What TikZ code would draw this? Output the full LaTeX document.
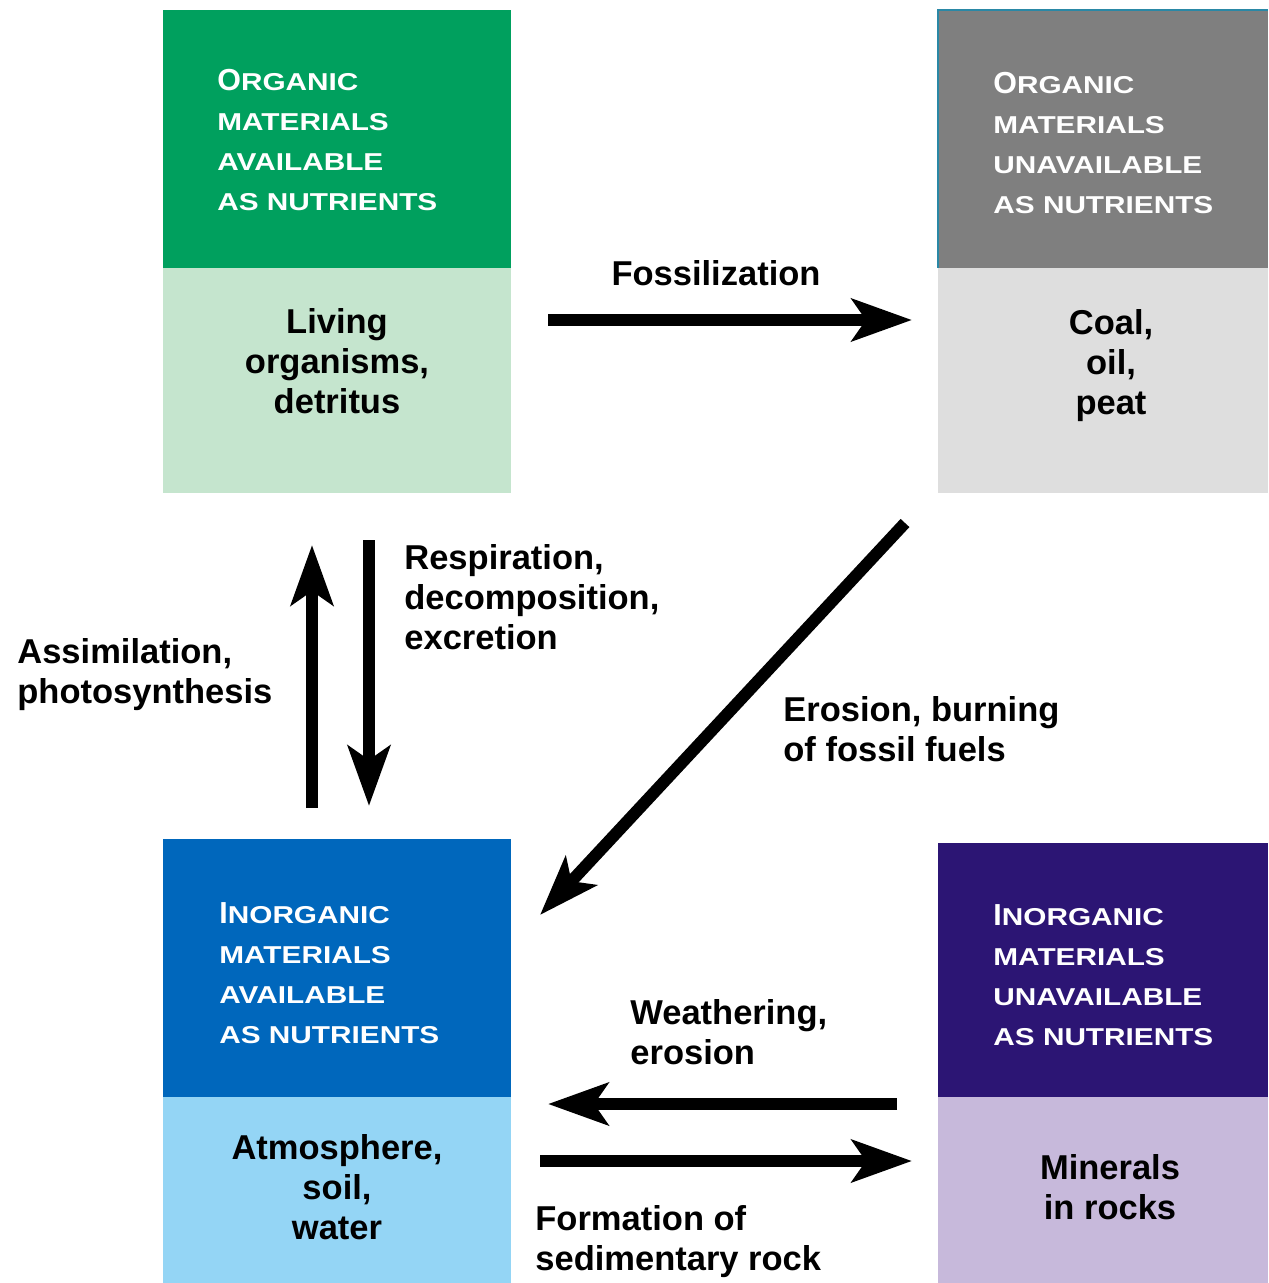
\documentclass[tikz,border=0pt]{standalone}
\usepackage{fontspec}
\setmainfont{Liberation Sans}
\usepackage{graphicx}
\usetikzlibrary{arrows.meta}

\definecolor{orgdark}{HTML}{00A05E}
\definecolor{orglight}{HTML}{C5E5CE}
\definecolor{fosdark}{HTML}{7F7F7F}
\definecolor{foslight}{HTML}{DEDEDE}
\definecolor{fosedge}{HTML}{2A88A6}
\definecolor{inodark}{HTML}{0067BC}
\definecolor{inolight}{HTML}{94D5F5}
\definecolor{rockdark}{HTML}{2C1574}
\definecolor{rocklight}{HTML}{C7B9DB}

% wide small capitals of the headings
\newcommand{\wide}[1]{\scalebox{1.22}[1]{#1}}
\newcommand{\initial}[1]{{\fontsize{15.2}{20}\selectfont #1}}

\tikzset{
  pane/.style={inner sep=0pt, outer sep=0pt, anchor=north west, fill=#1},
  headtxt/.style={text=white, font=\fontsize{12.2}{20}\selectfont\bfseries, align=left, inner sep=0pt, anchor=west},
  boxtxt/.style={font=\fontsize{17.25}{20}\selectfont\bfseries, align=center, inner sep=0pt},
  lbl/.style={font=\fontsize{17.25}{20}\selectfont\bfseries, align=left, inner sep=0pt, anchor=west},
  flow/.style={line width=6pt, -{Stealth[length=30pt, width=21pt, inset=7pt]}}
}

\begin{document}
\begin{tikzpicture}[x=0.5pt, y=-0.5pt]
  \useasboundingbox (0,0) rectangle (1268,1283);

  % Draw the four boxes
  \node[pane=orgdark, minimum width=174pt, minimum height=129pt] (orgav) at (163,10) {};
  \node[pane=orglight, minimum width=174pt, minimum height=112.5pt] (living) at (163,268) {};
  \node[pane=fosdark, minimum width=165pt, minimum height=129pt] (orgun) at (938,10) {};
  \node[pane=foslight, minimum width=165pt, minimum height=112.5pt] (coal) at (938,268) {};
  \node[pane=inodark, minimum width=174pt, minimum height=129pt] (inoav) at (163,839) {};
  \node[pane=inolight, minimum width=174pt, minimum height=93pt] (atmos) at (163,1097) {};
  \node[pane=rockdark, minimum width=165pt, minimum height=127pt] (inoun) at (938,843) {};
  \node[pane=rocklight, minimum width=165pt, minimum height=93pt] (minerals) at (938,1097) {};
  \draw[fosedge, line width=0.8pt] (orgun.south west) -- (orgun.north west) -- (orgun.north east);

  % Headings
  \node[headtxt] (orgavtxt) at (217,140) {\initial{O}\wide{RGANIC}\\ \wide{MATERIALS}\\ \wide{AVAILABLE}\\ \wide{AS NUTRIENTS}};
  \node[headtxt] (orguntxt) at (993,143) {\initial{O}\wide{RGANIC}\\ \wide{MATERIALS}\\ \wide{UNAVAILABLE}\\ \wide{AS NUTRIENTS}};
  \node[headtxt] (inoavtxt) at (219,973) {\initial{I}\wide{NORGANIC}\\ \wide{MATERIALS}\\ \wide{AVAILABLE}\\ \wide{AS NUTRIENTS}};
  \node[headtxt] (inountxt) at (993,975) {\initial{I}\wide{NORGANIC}\\ \wide{MATERIALS}\\ \wide{UNAVAILABLE}\\ \wide{AS NUTRIENTS}};

  % Contents
  \node[boxtxt] (livingtxt) at (337,361) {Living\\organisms,\\detritus};
  \node[boxtxt] (coaltxt) at (1111,366) {Coal,\\oil,\\peat};
  \node[boxtxt] (atmostxt) at (337,1187) {Atmosphere,\\soil,\\water};
  \node[boxtxt] (mineralstxt) at (1110,1187) {Minerals\\in rocks};

  % Arrow ends
  \coordinate (fosA) at (548,320);
  \coordinate (fosB) at (912,320);
  \coordinate (upA) at (312,808);
  \coordinate (upB) at (312,545);
  \coordinate (downA) at (369,540);
  \coordinate (downB) at (369,806);
  \coordinate (burnA) at (905,523);
  \coordinate (burnB) at (540,915);
  \coordinate (weathA) at (897,1104);
  \coordinate (weathB) at (548,1104);
  \coordinate (sedA) at (540,1161);
  \coordinate (sedB) at (912,1161);

  % Draw the flows
  \draw[flow] (fosA) -- (fosB);
  \draw[flow] (upA) -- (upB);
  \draw[flow] (downA) -- (downB);
  \draw[flow] (burnA) -- (burnB);
  \draw[flow] (weathA) -- (weathB);
  \draw[flow] (sedA) -- (sedB);

  % Labels
  \node[boxtxt] (fostxt) at (716,273) {Fossilization};
  \node[lbl] (assimtxt) at (17,675) {Assimilation,\\photosynthesis};
  \node[lbl] (resptxt) at (404,597) {Respiration,\\decomposition,\\excretion};
  \node[lbl] (burntxt) at (783,729) {Erosion, burning\\of fossil fuels};
  \node[lbl] (weathtxt) at (630,1032) {Weathering,\\erosion};
  \node[lbl] (sedtxt) at (535,1242) {Formation of\\sedimentary rock};
\end{tikzpicture}
\end{document}
